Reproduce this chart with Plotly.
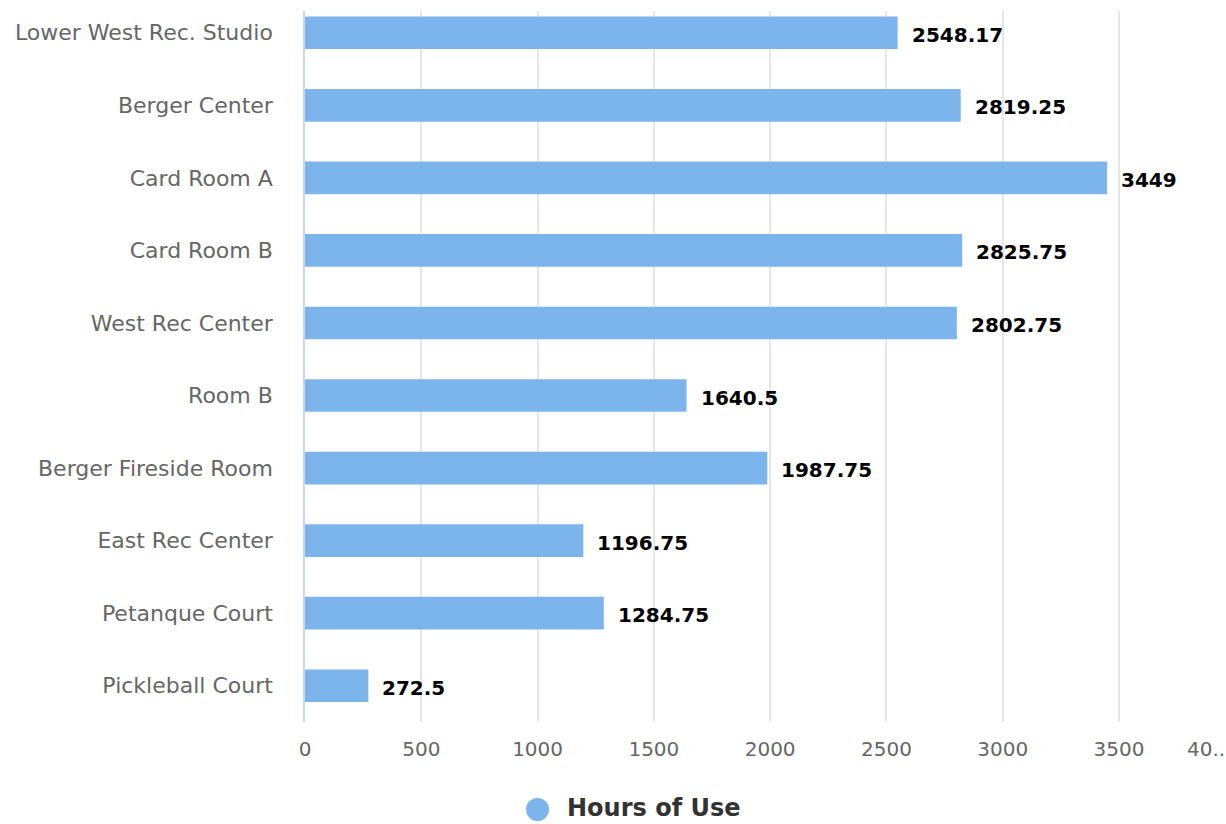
import plotly.graph_objects as go

categories = ["Lower West Rec. Studio", "Berger Center", "Card Room A", "Card Room B",
              "West Rec Center", "Room B", "Berger Fireside Room", "East Rec Center",
              "Petanque Court", "Pickleball Court"]
hours = [2548.17, 2819.25, 3449, 2825.75, 2802.75, 1640.5, 1987.75, 1196.75, 1284.75, 272.5]
labels = ["2548.17", "2819.25", "3449", "2825.75", "2802.75", "1640.5", "1987.75",
          "1196.75", "1284.75", "272.5"]
tick_vals = [0, 500, 1000, 1500, 2000, 2500, 3000, 3500]
series_name = "Hours of Use"

cats = categories[::-1]
vals = hours[::-1]
labs = labels[::-1]

BAR = "#7cb5ec"
W, H = 1226, 824
ML, MR, MT, MB = 305, 0, 11, 102
PW, PH = W - ML - MR, H - MT - MB

fig = go.Figure()
fig.add_trace(go.Bar(
    y=cats, x=vals, orientation="h", name=series_name,
    marker=dict(color=BAR, line=dict(width=0)),
    width=0.45, showlegend=False, hoverinfo="skip",
))

for c, v, t in zip(cats, vals, labs):
    fig.add_annotation(x=v, y=c, text=t, showarrow=False, xanchor="left",
                       xshift=12, yshift=-2,
                       font=dict(family="DejaVu Sans", size=20, color="#000000", weight="bold"))


def px(xp):
    return (xp - ML) / PW


def py(yp):
    return (H - MB - yp) / PH


# truncated last tick label, as in the original
fig.add_annotation(x=px(1185), xref="paper", y=py(749), yref="paper",
                   text="40..", showarrow=False, xanchor="left", yanchor="middle",
                   font=dict(family="DejaVu Sans", size=20, color="#666666"))

# legend drawn manually (so it doesn't push the plot margins)
fig.add_shape(type="circle", xref="paper", yref="paper",
              x0=px(526), x1=px(549), y0=py(821), y1=py(798),
              fillcolor=BAR, line=dict(width=0))
fig.add_annotation(x=px(565), xref="paper", y=py(808), yref="paper",
                   text=series_name, showarrow=False, xanchor="left", yanchor="middle",
                   font=dict(family="DejaVu Sans", size=24, color="#333333", weight="bold"))

fig.update_layout(
    width=W, height=H,
    margin=dict(l=ML, r=MR, t=MT, b=MB),
    paper_bgcolor="white", plot_bgcolor="white",
    showlegend=False,
    xaxis=dict(range=[0, 3960], tickvals=tick_vals, showgrid=True, gridcolor="#e6e6e6",
               gridwidth=1.5, zeroline=False, showline=False, ticks="",
               tickfont=dict(family="DejaVu Sans", size=20, color="#666666"),
               ticklabelstandoff=13),
    yaxis=dict(categoryorder="array", categoryarray=cats, range=[-0.5, 9.3],
               showgrid=False, zeroline=False, showline=True, linecolor="#ccd6eb", linewidth=1.5,
               ticks="", ticklabelstandoff=26,
               tickfont=dict(family="DejaVu Sans", size=22, color="#666666")),
)

fig.write_html("out.html")
